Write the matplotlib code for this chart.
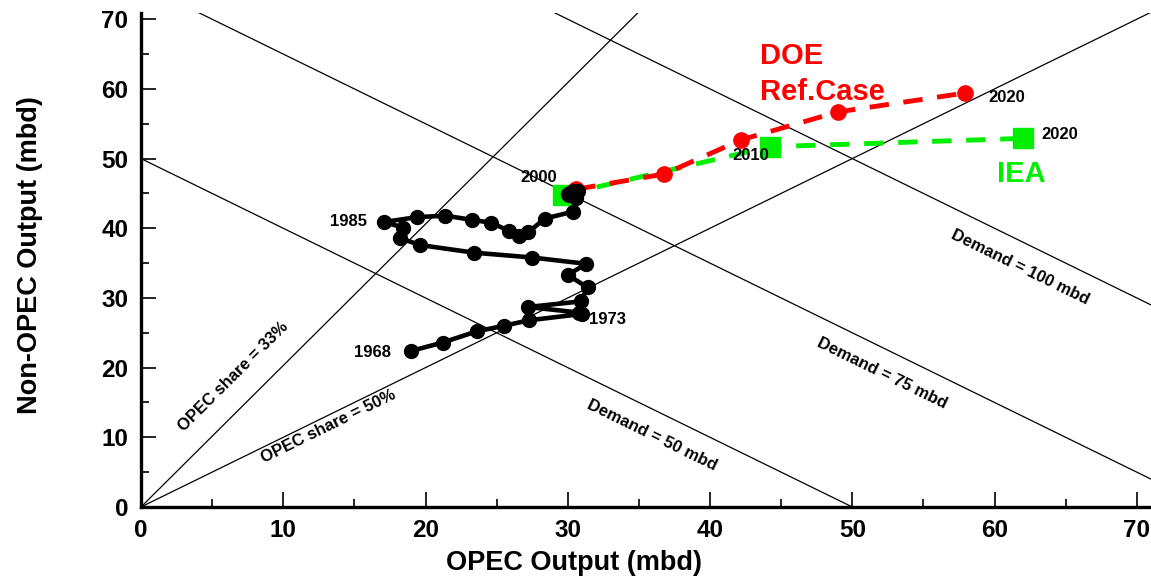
import numpy as np
import matplotlib.pyplot as plt

plt.rcParams['font.family'] = ['Liberation Sans', 'DejaVu Sans']
plt.rcParams['font.weight'] = 'bold'

# historical OPEC / non-OPEC output, 1968-2000 (mbd)
opec_hist = [19.0, 21.2, 23.6, 25.5, 27.3, 31.0, 30.8, 27.2, 30.9, 31.4, 30.0,
             31.3, 27.5, 23.4, 19.6, 18.2, 18.4, 17.1, 19.4, 21.4, 23.3, 24.6,
             25.9, 26.6, 27.2, 28.4, 30.4, 30.6, 30.3, 30.1, 30.7, 30.0, 30.4]
nonopec_hist = [22.4, 23.6, 25.2, 26.0, 26.8, 27.7, 27.9, 28.7, 29.5, 31.5, 33.3,
                34.9, 35.8, 36.5, 37.6, 38.6, 40.1, 40.9, 41.6, 41.8, 41.2, 40.8,
                39.6, 38.9, 39.4, 41.4, 42.4, 44.3, 45.2, 44.8, 45.4, 44.9, 45.3]

# DOE reference case projection (2000, 2005, 2010, 2015, 2020)
doe_opec = [30.6, 36.8, 42.2, 49.0, 57.9]
doe_nonopec = [45.6, 47.8, 52.7, 56.7, 59.4]

# IEA projection (2000, 2010, 2020)
iea_opec = [29.7, 44.2, 62.0]
iea_nonopec = [44.8, 51.7, 52.9]

demand_levels = [50, 75, 100]
opec_shares = [33, 50]

fig = plt.figure(figsize=(11.51, 5.81), dpi=100)
ax = fig.add_axes([0.1225, 0.1274, 0.8775, 0.8503])
ax.set_xlim(0, 71.0)
ax.set_ylim(0, 70.9)

# reference lines
xs = np.linspace(0, 75, 50)
for d in demand_levels:
    ax.plot(xs, d - xs, color='black', lw=0.9, zorder=1)
for s in opec_shares:
    ax.plot(xs, xs * (100 - s) / s, color='black', lw=0.9, zorder=1)

ax.text(6.5, 18.7, 'OPEC share = 33%', rotation=44.8, ha='center', va='center',
        rotation_mode='anchor', fontsize=12)
ax.text(13.2, 11.6, 'OPEC share = 50%', rotation=26.1, ha='center', va='center',
        rotation_mode='anchor', fontsize=12)
ax.text(35.9, 10.3, 'Demand = 50 mbd', rotation=-26.1, ha='center', va='center',
        rotation_mode='anchor', fontsize=12)
ax.text(52.1, 19.2, 'Demand = 75 mbd', rotation=-26.1, ha='center', va='center',
        rotation_mode='anchor', fontsize=12)
ax.text(61.8, 34.4, 'Demand = 100 mbd', rotation=-26.1, ha='center', va='center',
        rotation_mode='anchor', fontsize=12)

# projections
ax.plot(iea_opec, iea_nonopec, color='#00ee00', lw=3.5, ls=(0, (4, 3)),
        marker='s', ms=14, zorder=3)
ax.plot(doe_opec, doe_nonopec, color='#ff0000', lw=3.5, ls=(0, (4, 3)),
        marker='o', ms=11, zorder=4)

# history
ax.plot(opec_hist, nonopec_hist, color='black', lw=3.3, marker='o', ms=10, zorder=5)

ax.text(17.6, 22.2, '1968', ha='right', va='center', fontsize=12)
ax.text(31.5, 26.9, '1973', ha='left', va='center', fontsize=12)
ax.text(15.9, 41.0, '1985', ha='right', va='center', fontsize=12)
ax.text(26.7, 47.3, '2000', ha='left', va='center', fontsize=12)
ax.text(41.6, 50.4, '2010', ha='left', va='center', fontsize=12)
ax.text(59.6, 58.7, '2020', ha='left', va='center', fontsize=12)
ax.text(63.3, 53.4, '2020', ha='left', va='center', fontsize=12)

ax.text(43.5, 63.6, 'DOE', color='#ff0000', fontsize=21, ha='left', va='baseline')
ax.text(43.5, 58.4, 'Ref.Case', color='#ff0000', fontsize=21, ha='left', va='baseline')
ax.text(60.2, 46.6, 'IEA', color='#00ee00', fontsize=21, ha='left', va='baseline')

# axes styling
ax.spines['top'].set_visible(False)
ax.spines['right'].set_visible(False)
ax.spines['left'].set_linewidth(2.4)
ax.spines['bottom'].set_linewidth(2.4)
ax.set_xticks(np.arange(0, 71, 10))
ax.set_yticks(np.arange(0, 71, 10))
ax.set_xticks(np.arange(5, 71, 10), minor=True)
ax.set_yticks(np.arange(5, 71, 10), minor=True)
ax.tick_params(which='major', direction='in', length=11, width=1.2,
               labelsize=17.5, pad=9)
ax.tick_params(which='minor', direction='in', length=6, width=1.2)
ax.set_xlabel('OPEC Output (mbd)', fontsize=19.5, fontweight='bold')
ax.set_ylabel('Non-OPEC Output (mbd)', fontsize=19.5, fontweight='bold')
ax.xaxis.set_label_coords(0.429, -0.087)
ax.yaxis.set_label_coords(-0.097, 0.51)

fig.savefig('out.png', dpi=100)
